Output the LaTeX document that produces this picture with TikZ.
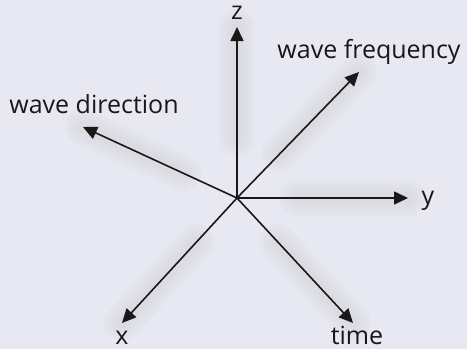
\documentclass[tikz,border=0pt]{standalone}
\usepackage{fontspec}
\setmainfont{Open Sans}
\usetikzlibrary{arrows.meta,calc}
\definecolor{bgc}{HTML}{E8E8F2}
\definecolor{ink}{HTML}{1A1718}
\tikzset{
  axis/.style={draw=ink, line width=1.6pt, -{Triangle[length=14pt,width=13pt]}},
  lbl/.style={font=\fontsize{25}{28}\selectfont, text=ink, inner sep=0pt, anchor=base},
  shad/.style={draw=black!60, line cap=round, opacity=0.025},
}
\begin{document}
\begin{tikzpicture}[x=1pt,y=-1pt]
\fill[bgc] (0,0) rectangle (467,349);
\useasboundingbox (0,0) rectangle (467,349);
\coordinate (o) at (237,198);
\coordinate (tz) at (237,27);
\coordinate (tf) at (359,72);
\coordinate (td) at (83,127);
\coordinate (ty) at (408,198);
\coordinate (tx) at (122,323);
\coordinate (tt) at (353,323);
% soft shadow
\begin{scope}[shift={(14,14)}]
\foreach \w in {36,28,20,12}{
  \foreach \t in {tz,tf,td,ty,tx,tt}{
    \path[shad, line width=\w pt] ($(o)!0.35!(\t)$) -- (\t);
  }
}
\end{scope}
\draw[axis] (o) -- (tz);
\draw[axis] (o) -- (tf);
\draw[axis] (o) -- (td);
\draw[axis] (o) -- (ty);
\draw[axis] (o) -- (tx);
\draw[axis] (o) -- (tt);
\node[lbl] (lz) at (237,19) {z};
\node[lbl] (lf) at (369,58) {wave frequency};
\node[lbl] (ld) at (94,113) {wave direction};
\node[lbl] (ly) at (428,204) {y};
\node[lbl] (lx) at (122,344) {x};
\node[lbl] (lt) at (357,344) {time};
\end{tikzpicture}
\end{document}
